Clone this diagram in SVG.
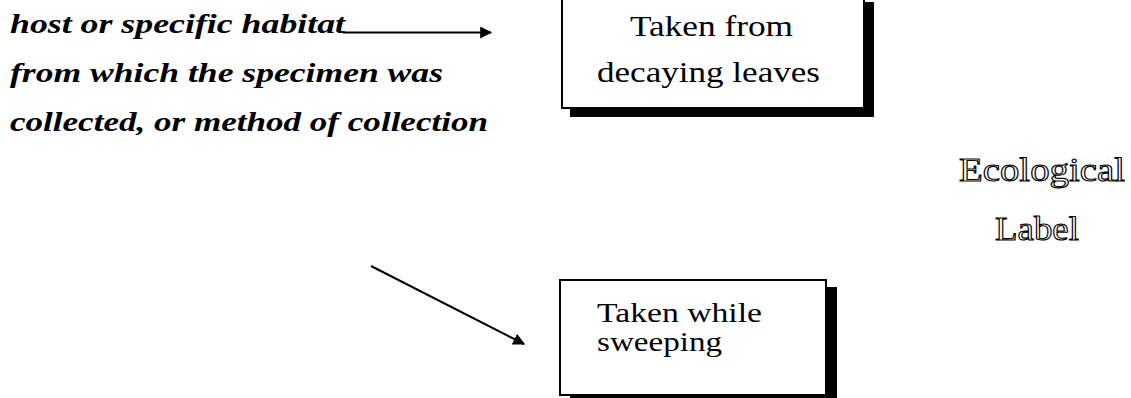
<svg xmlns="http://www.w3.org/2000/svg" width="1131" height="398" viewBox="0 0 1131 398">
<defs>
<style>
.desc{font-family:"Liberation Serif","Times New Roman",serif;font-style:italic;font-weight:bold;font-size:28px;fill:#000}
.box{fill:#fff;stroke:#000;stroke-width:2}
.shadow{fill:#000}
.bt{font-family:"Liberation Serif","Times New Roman",serif;font-size:29px;fill:#000}
.bt2{font-family:"Liberation Serif","Times New Roman",serif;font-size:27px;fill:#000}
.title{font-family:"Liberation Serif","Times New Roman",serif;font-size:34px;fill:#fff;stroke:#000;stroke-width:1.1}
.conn{stroke:#000;stroke-width:2;fill:none}
</style>
<marker id="arr" viewBox="0 0 10 10" refX="9" refY="5" markerWidth="6" markerHeight="6" orient="auto" markerUnits="strokeWidth">
<path d="M0,0 L10,5 L0,10 Z" fill="#000"/>
</marker>
</defs>
<rect width="1131" height="398" fill="#fff"/>
<g id="description">
<text class="desc" x="10" y="33" textLength="335" lengthAdjust="spacingAndGlyphs">host or specific habitat</text>
<text class="desc" x="10" y="82" textLength="433" lengthAdjust="spacingAndGlyphs">from which the specimen was</text>
<text class="desc" x="10" y="131" textLength="478" lengthAdjust="spacingAndGlyphs">collected, or method of collection</text>
</g>
<g id="box-decaying">
<rect class="shadow" x="570" y="2" width="304" height="115"/>
<rect class="box" x="562" y="-10" width="302" height="118"/>
<text class="bt" x="630" y="36" textLength="163" lengthAdjust="spacingAndGlyphs">Taken from</text>
<text class="bt" x="597" y="82" textLength="223" lengthAdjust="spacingAndGlyphs">decaying leaves</text>
</g>
<g id="box-sweeping">
<rect class="shadow" x="570" y="287" width="267" height="120"/>
<rect class="box" x="560" y="280" width="266" height="115"/>
<text class="bt2" x="597" y="322" textLength="165" lengthAdjust="spacingAndGlyphs">Taken while</text>
<text class="bt2" x="597" y="351" textLength="125" lengthAdjust="spacingAndGlyphs">sweeping</text>
</g>
<g id="ecological-label">
<text class="title" x="959" y="181" textLength="166" lengthAdjust="spacingAndGlyphs">Ecological</text>
<text class="title" x="995" y="240" textLength="84" lengthAdjust="spacingAndGlyphs">Label</text>
</g>
<g id="connectors">
<line class="conn" x1="343" y1="32.5" x2="491" y2="32.5" marker-end="url(#arr)"/>
<line class="conn" x1="371" y1="266" x2="524" y2="344" marker-end="url(#arr)"/>
</g>
</svg>
